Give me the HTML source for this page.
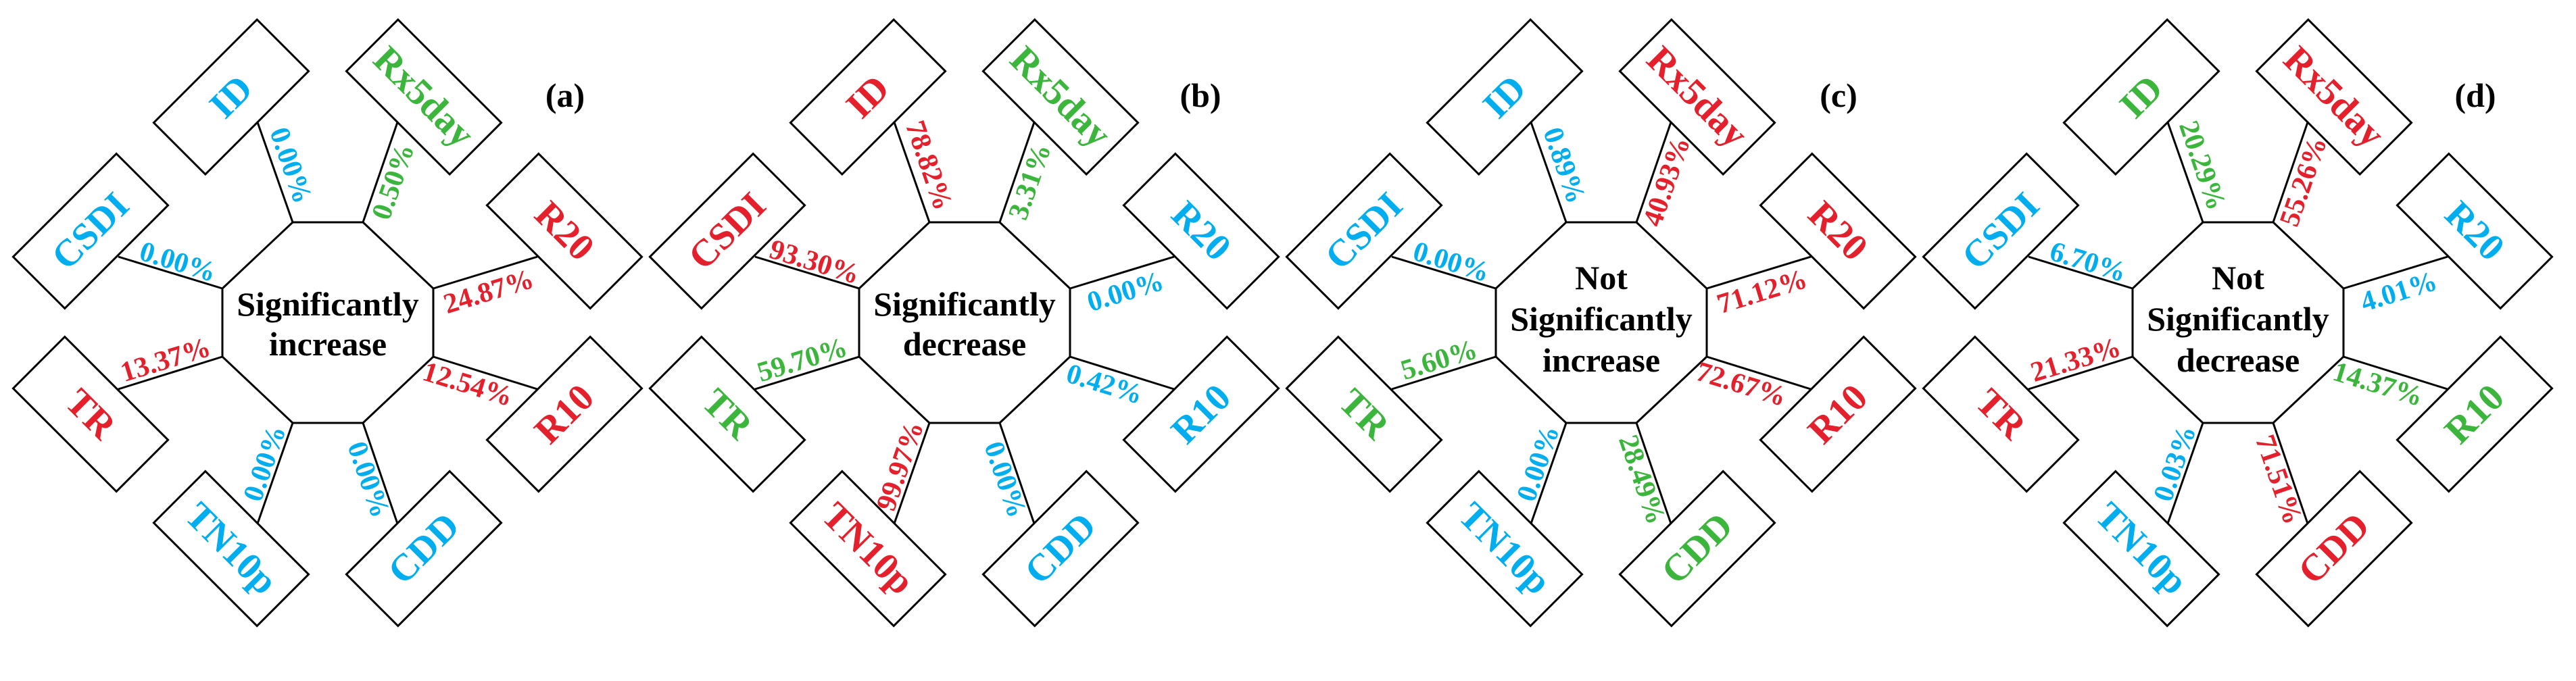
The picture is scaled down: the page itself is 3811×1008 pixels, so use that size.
<!DOCTYPE html>
<html><head><meta charset="utf-8"><style>
html,body{margin:0;padding:0;background:#fff;}
svg{display:block;}
svg text{font-family:"Liberation Serif","DejaVu Serif",serif;}
.b{font-size:56px;font-weight:bold;text-anchor:middle;dominant-baseline:central;}
.p{font-size:42px;font-weight:bold;text-anchor:middle;dominant-baseline:central;}
.c{font-size:50px;font-weight:bold;text-anchor:middle;dominant-baseline:central;fill:#000;}
.r{fill:#e3202b}.u{fill:#00aeef}.g{fill:#3bb53b}
</style></head><body>
<svg width="3811" height="1008" viewBox="0 0 3811 1008" xmlns="http://www.w3.org/2000/svg" font-family="Liberation Serif, DejaVu Serif, serif" font-weight="bold">
<defs>
<g id="F" fill="none" stroke="#000" stroke-width="3">
<polygon points="433,329 537,329 641,427 641,528 537,626 433,626 329,528 329,427" fill="#fff"/>
<line x1="433" y1="329" x2="381" y2="181"/>
<line x1="537" y1="329" x2="588" y2="181"/>
<line x1="641" y1="427" x2="795" y2="380"/>
<line x1="641" y1="528" x2="795" y2="576"/>
<line x1="537" y1="626" x2="588" y2="775"/>
<line x1="433" y1="626" x2="381" y2="775"/>
<line x1="329" y1="528" x2="175" y2="576"/>
<line x1="329" y1="427" x2="175" y2="380"/>
<rect x="-108" y="-54" width="216" height="108" transform="translate(342,143.5) rotate(-45)"/>
<rect x="-108" y="-54" width="216" height="108" transform="translate(627,143.5) rotate(45)"/>
<rect x="-108" y="-54" width="216" height="108" transform="translate(134,342) rotate(-45)"/>
<rect x="-108" y="-54" width="216" height="108" transform="translate(835,342) rotate(45)"/>
<rect x="-108" y="-54" width="216" height="108" transform="translate(134,613) rotate(45)"/>
<rect x="-108" y="-54" width="216" height="108" transform="translate(835,613) rotate(-45)"/>
<rect x="-108" y="-54" width="216" height="108" transform="translate(342,812) rotate(45)"/>
<rect x="-108" y="-54" width="216" height="108" transform="translate(627,812) rotate(-45)"/>
</g>
</defs>

<!-- (a) -->
<g>
<use href="#F"/>
<text class="b u" transform="translate(342,143.5) rotate(-45)">ID</text>
<text class="b g" transform="translate(627,143.5) rotate(45)">Rx5day</text>
<text class="b u" transform="translate(134,342) rotate(-45)">CSDI</text>
<text class="b r" transform="translate(835,342) rotate(45)">R20</text>
<text class="b r" transform="translate(134,613) rotate(45)">TR</text>
<text class="b r" transform="translate(835,613) rotate(-45)">R10</text>
<text class="b u" transform="translate(342,812) rotate(45)">TN10p</text>
<text class="b u" transform="translate(627,812) rotate(-45)">CDD</text>
<text class="p u" transform="translate(430,245) rotate(71)">0.00%</text>
<text class="p g" transform="translate(582,269) rotate(-71)">0.50%</text>
<text class="p u" transform="translate(263,388) rotate(17)">0.00%</text>
<text class="p r" transform="translate(723,432) rotate(-17)">24.87%</text>
<text class="p r" transform="translate(245,533) rotate(-17)">13.37%</text>
<text class="p r" transform="translate(692,569) rotate(17)">12.54%</text>
<text class="p u" transform="translate(392,686) rotate(-71)">0.00%</text>
<text class="p u" transform="translate(545,710) rotate(71)">0.00%</text>
<text class="c" x="485" y="450">Significantly</text>
<text class="c" x="485" y="509">increase</text>
<text class="c" x="836" y="141">(a)</text>
</g>

<!-- (b) -->
<g transform="translate(942,0)">
<use href="#F"/>
<text class="b r" transform="translate(342,143.5) rotate(-45)">ID</text>
<text class="b g" transform="translate(627,143.5) rotate(45)">Rx5day</text>
<text class="b r" transform="translate(134,342) rotate(-45)">CSDI</text>
<text class="b u" transform="translate(835,342) rotate(45)">R20</text>
<text class="b g" transform="translate(134,613) rotate(45)">TR</text>
<text class="b u" transform="translate(835,613) rotate(-45)">R10</text>
<text class="b r" transform="translate(342,812) rotate(45)">TN10p</text>
<text class="b u" transform="translate(627,812) rotate(-45)">CDD</text>
<text class="p r" transform="translate(432,245) rotate(71)">78.82%</text>
<text class="p g" transform="translate(582,269) rotate(-71)">3.31%</text>
<text class="p r" transform="translate(263,388) rotate(17)">93.30%</text>
<text class="p u" transform="translate(723,432) rotate(-17)">0.00%</text>
<text class="p g" transform="translate(245,533) rotate(-17)">59.70%</text>
<text class="p u" transform="translate(692,569) rotate(17)">0.42%</text>
<text class="p r" transform="translate(390,690) rotate(-71)">99.97%</text>
<text class="p u" transform="translate(545,710) rotate(71)">0.00%</text>
<text class="c" x="485" y="450">Significantly</text>
<text class="c" x="485" y="509">decrease</text>
<text class="c" x="834" y="141">(b)</text>
</g>

<!-- (c) -->
<g transform="translate(1884,0)">
<use href="#F"/>
<text class="b u" transform="translate(342,143.5) rotate(-45)">ID</text>
<text class="b r" transform="translate(627,143.5) rotate(45)">Rx5day</text>
<text class="b u" transform="translate(134,342) rotate(-45)">CSDI</text>
<text class="b r" transform="translate(835,342) rotate(45)">R20</text>
<text class="b g" transform="translate(134,613) rotate(45)">TR</text>
<text class="b r" transform="translate(835,613) rotate(-45)">R10</text>
<text class="b u" transform="translate(342,812) rotate(45)">TN10p</text>
<text class="b g" transform="translate(627,812) rotate(-45)">CDD</text>
<text class="p u" transform="translate(430,245) rotate(71)">0.89%</text>
<text class="p r" transform="translate(582,269) rotate(-71)">40.93%</text>
<text class="p u" transform="translate(263,388) rotate(17)">0.00%</text>
<text class="p r" transform="translate(723,432) rotate(-17)">71.12%</text>
<text class="p g" transform="translate(245,533) rotate(-17)">5.60%</text>
<text class="p r" transform="translate(692,569) rotate(17)">72.67%</text>
<text class="p u" transform="translate(392,686) rotate(-71)">0.00%</text>
<text class="p g" transform="translate(545,710) rotate(71)">28.49%</text>
<text class="c" x="485" y="411">Not</text>
<text class="c" x="485" y="472">Significantly</text>
<text class="c" x="485" y="533">increase</text>
<text class="c" x="836" y="141">(c)</text>
</g>

<!-- (d) -->
<g transform="translate(2826,0)">
<use href="#F"/>
<text class="b g" transform="translate(342,143.5) rotate(-45)">ID</text>
<text class="b r" transform="translate(627,143.5) rotate(45)">Rx5day</text>
<text class="b u" transform="translate(134,342) rotate(-45)">CSDI</text>
<text class="b u" transform="translate(835,342) rotate(45)">R20</text>
<text class="b r" transform="translate(134,613) rotate(45)">TR</text>
<text class="b g" transform="translate(835,613) rotate(-45)">R10</text>
<text class="b u" transform="translate(342,812) rotate(45)">TN10p</text>
<text class="b r" transform="translate(627,812) rotate(-45)">CDD</text>
<text class="p g" transform="translate(432,245) rotate(71)">20.29%</text>
<text class="p r" transform="translate(582,269) rotate(-71)">55.26%</text>
<text class="p u" transform="translate(263,388) rotate(17)">6.70%</text>
<text class="p u" transform="translate(723,432) rotate(-17)">4.01%</text>
<text class="p r" transform="translate(245,533) rotate(-17)">21.33%</text>
<text class="p g" transform="translate(692,569) rotate(17)">14.37%</text>
<text class="p u" transform="translate(392,686) rotate(-71)">0.03%</text>
<text class="p r" transform="translate(545,710) rotate(71)">71.51%</text>
<text class="c" x="485" y="411">Not</text>
<text class="c" x="485" y="472">Significantly</text>
<text class="c" x="485" y="533">decrease</text>
<text class="c" x="836" y="141">(d)</text>
</g>
</svg>
</body></html>
